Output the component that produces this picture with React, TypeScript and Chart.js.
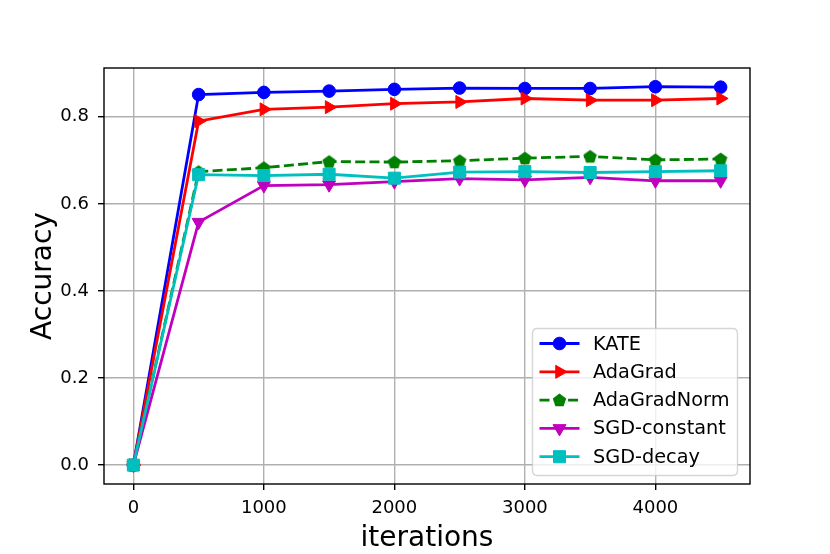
import React, { useEffect, useRef } from 'react';
import { Chart, registerables } from 'chart.js';

Chart.register(...registerables);

const iterations = [0, 500, 1000, 1500, 2000, 2500, 3000, 3500, 4000, 4500];
const kate = [0, 0.851, 0.856, 0.859, 0.863, 0.866, 0.865, 0.865, 0.869, 0.868];
const adagrad = [0, 0.79, 0.817, 0.822, 0.83, 0.834, 0.842, 0.838, 0.838, 0.842];
const adagradNorm = [0, 0.674, 0.683, 0.697, 0.696, 0.699, 0.705, 0.709, 0.701, 0.703];
const sgdConstant = [0, 0.558, 0.642, 0.644, 0.651, 0.658, 0.655, 0.661, 0.653, 0.653];
const sgdDecay = [0, 0.667, 0.665, 0.668, 0.659, 0.673, 0.674, 0.672, 0.674, 0.676];

const xTicks = [0, 1000, 2000, 3000, 4000];
const yTicks = [0, 0.2, 0.4, 0.6, 0.8];

const seriesNames = ['KATE', 'AdaGrad', 'AdaGradNorm', 'SGD-constant', 'SGD-decay'];
const seriesValues = [kate, adagrad, adagradNorm, sgdConstant, sgdDecay];
const seriesColors = ['#0000ff', '#ff0000', '#008000', '#bf00bf', '#00bfbf'];
const seriesMarkers = ['circle', 'triRight', 'pentagon', 'triDown', 'square'];
const seriesDashed = [false, false, true, false, false];

const FONT = '"DejaVu Sans", "Liberation Sans", sans-serif';
const LINE_W = 2.8;
const DASH = [10, 4.3];
const CIRCLE_R = 6.3;
const TRI_R = 7.5;
const SQUARE_HALF = 6;
const PENT_R = 7;

function pentagonPath(ctx: CanvasRenderingContext2D, cx: number, cy: number, r: number) {
  ctx.beginPath();
  for (let i = 0; i < 5; i++) {
    const a = -Math.PI / 2 + (i * 2 * Math.PI) / 5;
    const px = cx + r * Math.cos(a);
    const py = cy + r * Math.sin(a);
    if (i === 0) ctx.moveTo(px, py);
    else ctx.lineTo(px, py);
  }
  ctx.closePath();
}

function makePentagon(color: string) {
  const c = document.createElement('canvas');
  c.width = 18;
  c.height = 18;
  const g = c.getContext('2d')!;
  pentagonPath(g, 9, 9.5, PENT_R);
  g.fillStyle = color;
  g.fill();
  return c;
}

function drawMarker(ctx: CanvasRenderingContext2D, kind: string, x: number, y: number, color: string) {
  ctx.save();
  ctx.fillStyle = color;
  ctx.strokeStyle = color;
  ctx.lineWidth = 1;
  ctx.setLineDash([]);
  const tri = (rotDeg: number, r: number) => {
    let rad = (rotDeg * Math.PI) / 180;
    ctx.beginPath();
    ctx.moveTo(x + Math.sin(rad) * r, y - Math.cos(rad) * r);
    rad += (2 * Math.PI) / 3;
    ctx.lineTo(x + Math.sin(rad) * r, y - Math.cos(rad) * r);
    rad += (2 * Math.PI) / 3;
    ctx.lineTo(x + Math.sin(rad) * r, y - Math.cos(rad) * r);
    ctx.closePath();
  };
  if (kind === 'circle') {
    ctx.beginPath();
    ctx.arc(x, y, CIRCLE_R, 0, Math.PI * 2);
  } else if (kind === 'triRight') {
    tri(90, TRI_R);
  } else if (kind === 'triDown') {
    tri(180, TRI_R);
  } else if (kind === 'square') {
    ctx.beginPath();
    ctx.rect(x - SQUARE_HALF, y - SQUARE_HALF, SQUARE_HALF * 2, SQUARE_HALF * 2);
  } else {
    pentagonPath(ctx, x, y + 0.5, PENT_R);
  }
  ctx.fill();
  if (kind !== 'pentagon') ctx.stroke();
  ctx.restore();
}

const framePlugin = {
  id: 'mplFrame',
  afterDatasetsDraw(chart: any) {
    const { ctx, chartArea } = chart;
    const { left, right, top, bottom } = chartArea;
    ctx.save();
    ctx.strokeStyle = '#000000';
    ctx.lineWidth = 1.4;
    ctx.strokeRect(left, top, right - left, bottom - top);
    ctx.restore();
  },
  afterDraw(chart: any) {
    const { ctx, chartArea } = chart;
    const { left, right, top, bottom } = chartArea;
    ctx.save();
    // axis titles
    ctx.fillStyle = '#000000';
    ctx.font = `28px ${FONT}`;
    ctx.textAlign = 'center';
    ctx.textBaseline = 'alphabetic';
    ctx.fillText('iterations', (left + right) / 2, 546);
    ctx.save();
    ctx.translate(51, (top + bottom) / 2);
    ctx.rotate(-Math.PI / 2);
    ctx.fillText('Accuracy', 0, 0);
    ctx.restore();

    // legend
    const bx = 532.5;
    const by = 328.5;
    const bw = 205;
    const bh = 147;
    const rr = 5;
    ctx.beginPath();
    ctx.moveTo(bx + rr, by);
    ctx.lineTo(bx + bw - rr, by);
    ctx.quadraticCurveTo(bx + bw, by, bx + bw, by + rr);
    ctx.lineTo(bx + bw, by + bh - rr);
    ctx.quadraticCurveTo(bx + bw, by + bh, bx + bw - rr, by + bh);
    ctx.lineTo(bx + rr, by + bh);
    ctx.quadraticCurveTo(bx, by + bh, bx, by + bh - rr);
    ctx.lineTo(bx, by + rr);
    ctx.quadraticCurveTo(bx, by, bx + rr, by);
    ctx.closePath();
    ctx.fillStyle = 'rgba(255,255,255,0.8)';
    ctx.fill();
    ctx.strokeStyle = 'rgba(204,204,204,0.8)';
    ctx.lineWidth = 1.4;
    ctx.stroke();

    ctx.font = `19.3px ${FONT}`;
    ctx.textAlign = 'left';
    ctx.textBaseline = 'middle';
    seriesNames.forEach((name, i) => {
      const y = 343.5 + i * 28.3;
      ctx.save();
      ctx.strokeStyle = seriesColors[i];
      ctx.lineWidth = LINE_W;
      ctx.setLineDash(seriesDashed[i] ? DASH : []);
      ctx.beginPath();
      ctx.moveTo(539.5, y);
      ctx.lineTo(579.5, y);
      ctx.stroke();
      ctx.restore();
      drawMarker(ctx, seriesMarkers[i], 559.5, y, seriesColors[i]);
      ctx.fillStyle = '#000000';
      ctx.fillText(name, 593, y + 1);
    });
    ctx.restore();
  },
};

export default function App() {
  const canvasRef = useRef<HTMLCanvasElement | null>(null);

  useEffect(() => {
    document.body.style.margin = '0';
    const canvas = canvasRef.current;
    if (!canvas) return;

    const pointStyleFor = (kind: string, color: string): any => {
      if (kind === 'circle') return 'circle';
      if (kind === 'triRight' || kind === 'triDown') return 'triangle';
      if (kind === 'square') return 'rect';
      return makePentagon(color);
    };
    const radiusFor = (kind: string) => {
      if (kind === 'circle') return CIRCLE_R;
      if (kind === 'square') return SQUARE_HALF / Math.SQRT1_2;
      return TRI_R;
    };

    const datasets = seriesNames.map((name, i) => ({
      label: name,
      data: iterations.map((x, j) => ({ x, y: seriesValues[i][j] })),
      borderColor: seriesColors[i],
      backgroundColor: seriesColors[i],
      pointBackgroundColor: seriesColors[i],
      pointBorderColor: seriesColors[i],
      pointBorderWidth: 1,
      borderWidth: LINE_W,
      borderDash: seriesDashed[i] ? DASH : [],
      pointStyle: pointStyleFor(seriesMarkers[i], seriesColors[i]),
      pointRotation: seriesMarkers[i] === 'triRight' ? 90 : seriesMarkers[i] === 'triDown' ? 180 : 0,
      pointRadius: radiusFor(seriesMarkers[i]),
      pointHoverRadius: radiusFor(seriesMarkers[i]),
      tension: 0,
      fill: false,
      order: seriesNames.length - i,
    }));

    const chart = new Chart(canvas, {
      type: 'line',
      data: { datasets },
      options: {
        animation: false,
        responsive: false,
        maintainAspectRatio: false,
        devicePixelRatio: window.devicePixelRatio || 1,
        layout: { padding: { top: 68, right: 80, left: 0, bottom: 0 } },
        plugins: {
          legend: { display: false },
          tooltip: { enabled: false },
          title: { display: false },
        },
        font: { family: FONT },
        scales: {
          x: {
            type: 'linear',
            min: -225,
            max: 4725,
            afterFit: (s: any) => {
              s.height = 70;
            },
            afterBuildTicks: (s: any) => {
              s.ticks = xTicks.map((v) => ({ value: v }));
            },
            border: { display: false },
            grid: {
              color: '#b0b0b0',
              lineWidth: 1.4,
              drawTicks: true,
              tickLength: 6,
              tickColor: '#000000',
              tickWidth: 1.4,
            },
            ticks: {
              color: '#000000',
              padding: 8,
              font: { family: FONT, size: 18 },
              maxRotation: 0,
              callback: (v: any) => String(v),
            },
          },
          y: {
            type: 'linear',
            min: -0.0434,
            max: 0.912,
            afterFit: (s: any) => {
              s.width = 104;
            },
            afterBuildTicks: (s: any) => {
              s.ticks = yTicks.map((v) => ({ value: v }));
            },
            border: { display: false },
            grid: {
              color: '#b0b0b0',
              lineWidth: 1.4,
              drawTicks: true,
              tickLength: 6,
              tickColor: '#000000',
              tickWidth: 1.4,
            },
            ticks: {
              color: '#000000',
              padding: 9,
              font: { family: FONT, size: 18 },
              callback: (v: any) => Number(v).toFixed(1),
            },
          },
        },
      },
      plugins: [framePlugin],
    } as any);

    return () => {
      chart.destroy();
    };
  }, []);

  return (
    <div style={{ position: 'absolute', left: 0, top: 0, width: 830, height: 554, background: '#ffffff' }}>
      <canvas ref={canvasRef} width={830} height={554} style={{ width: 830, height: 554, display: 'block' }} />
    </div>
  );
}
